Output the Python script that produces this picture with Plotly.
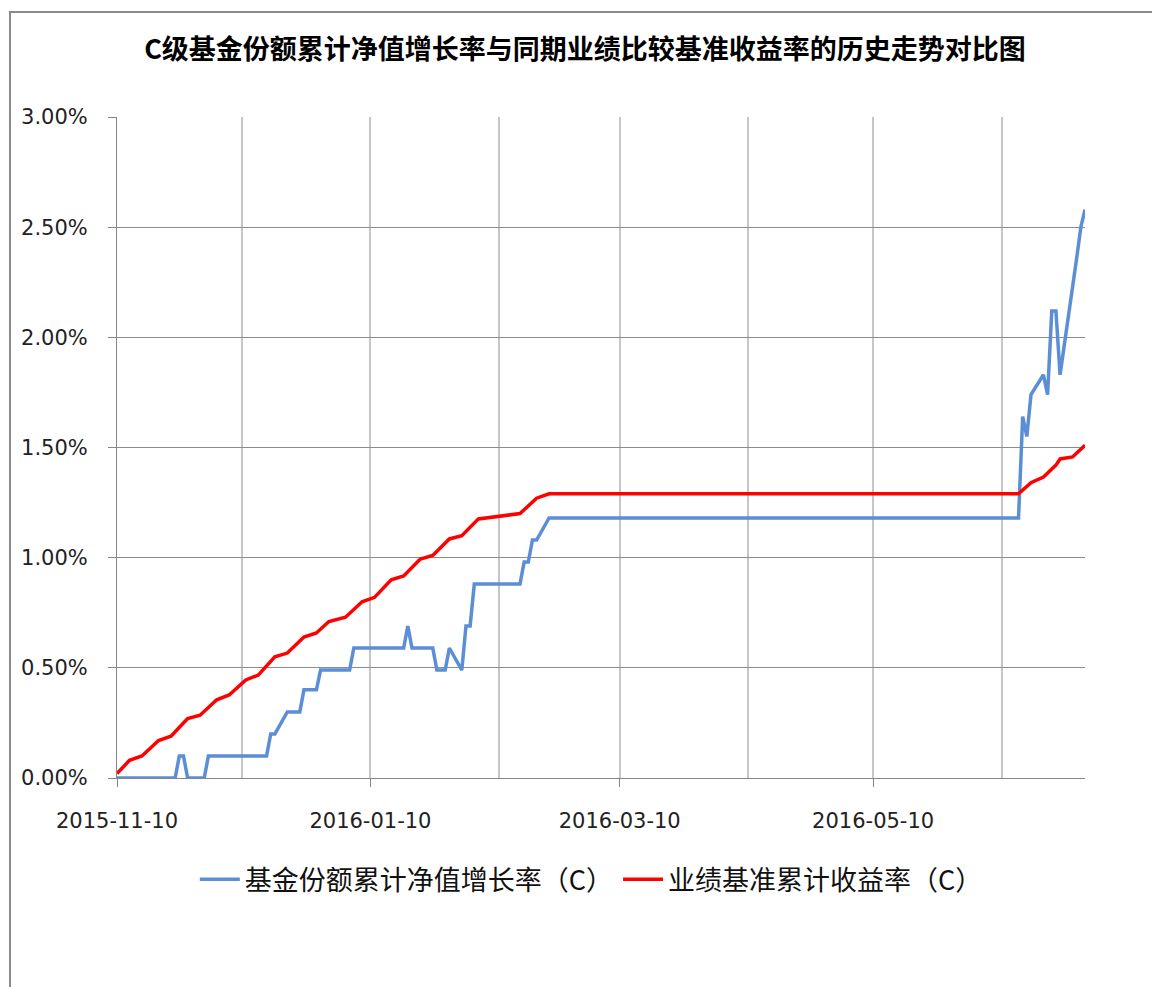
import plotly.graph_objects as go

# ---- data ----
fund_dates = [
    "2015-11-10", "2015-11-24", "2015-11-25", "2015-11-26", "2015-11-27",
    "2015-12-01", "2015-12-02", "2015-12-16", "2015-12-17", "2015-12-18",
    "2015-12-21", "2015-12-24", "2015-12-25", "2015-12-28", "2015-12-29",
    "2016-01-05", "2016-01-06", "2016-01-18", "2016-01-19", "2016-01-20",
    "2016-01-25", "2016-01-26", "2016-01-28", "2016-01-29", "2016-02-01",
    "2016-02-02", "2016-02-03", "2016-02-04", "2016-02-15", "2016-02-16",
    "2016-02-17", "2016-02-18", "2016-02-19", "2016-02-22", "2016-06-14",
    "2016-06-15", "2016-06-16", "2016-06-17", "2016-06-20", "2016-06-21",
    "2016-06-22", "2016-06-23", "2016-06-24", "2016-06-25", "2016-06-26",
    "2016-06-27", "2016-06-28", "2016-06-29", "2016-06-30",
]
fund_values = [
    0.00, 0.00, 0.10, 0.10, 0.00,
    0.00, 0.10, 0.10, 0.20, 0.20,
    0.30, 0.30, 0.40, 0.40, 0.49,
    0.49, 0.59, 0.59, 0.69, 0.59,
    0.59, 0.49, 0.49, 0.59, 0.49,
    0.69, 0.69, 0.88, 0.88, 0.98,
    0.98, 1.08, 1.08, 1.18, 1.18,
    1.64, 1.55, 1.74, 1.83, 1.74,
    2.12, 2.12, 1.83, 1.96, 2.08,
    2.22, 2.36, 2.50, 2.58,
]

bench_dates = [
    "2015-11-10", "2015-11-13", "2015-11-16", "2015-11-20", "2015-11-23",
    "2015-11-27", "2015-11-30", "2015-12-04", "2015-12-07", "2015-12-11",
    "2015-12-14", "2015-12-18", "2015-12-21", "2015-12-25", "2015-12-28",
    "2015-12-31", "2016-01-04", "2016-01-08", "2016-01-11", "2016-01-15",
    "2016-01-18", "2016-01-22", "2016-01-25", "2016-01-29", "2016-02-01",
    "2016-02-05", "2016-02-15", "2016-02-19", "2016-02-22", "2016-06-14",
    "2016-06-17", "2016-06-20", "2016-06-23", "2016-06-24", "2016-06-27",
    "2016-06-30",
]
bench_values = [
    0.02, 0.08, 0.10, 0.17, 0.19,
    0.27, 0.285, 0.355, 0.377, 0.445,
    0.467, 0.55, 0.567, 0.64, 0.658,
    0.71, 0.73, 0.80, 0.82, 0.90,
    0.917, 0.994, 1.01, 1.085, 1.10,
    1.176, 1.20, 1.27, 1.29, 1.29,
    1.34, 1.366, 1.42, 1.448, 1.457,
    1.51,
]

tick_dates = ["2015-11-10", "2016-01-10", "2016-03-10", "2016-05-10"]
tick_labels = ["2015-11-10", "2016-01-10", "2016-03-10", "2016-05-10"]
grid_dates = ["2015-11-10", "2015-12-10", "2016-01-10", "2016-02-10",
              "2016-03-10", "2016-04-10", "2016-05-10", "2016-06-10"]
x_range = ["2015-11-10", "2016-06-30"]

title_text = "C级基金份额累计净值增长率与同期业绩比较基准收益率的历史走势对比图"
name_fund = "基金份额累计净值增长率（C）"
name_bench = "业绩基准累计收益率（C）"

CJK = "Noto Sans CJK SC"
TICKFONT = "DejaVu Sans"

fig = go.Figure()
fig.add_trace(go.Scatter(x=fund_dates, y=fund_values, mode="lines", name=name_fund,
                         line=dict(color="#5B8ED6", width=3.5)))
fig.add_trace(go.Scatter(x=bench_dates, y=bench_values, mode="lines", name=name_bench,
                         line=dict(color="#FF0000", width=3.5)))

fig.update_layout(
    width=1152, height=987,
    margin=dict(l=117, r=67, t=117, b=209),
    paper_bgcolor="white", plot_bgcolor="white",
    title=dict(text=title_text, x=585 / 1152, xanchor="center", xref="container",
               y=1 - 50 / 987, yanchor="middle", yref="container",
               font=dict(family=CJK, size=27, color="#000000", weight="bold")),
    legend=dict(orientation="h", x=0.49, xanchor="center", y=-0.154, yanchor="middle",
                font=dict(family=CJK, size=27, color="#111111"),
                itemwidth=40, bgcolor="rgba(0,0,0,0)"),
    showlegend=True,
)

fig.update_xaxes(
    type="date", range=x_range,
    tickmode="array", tickvals=tick_dates, ticktext=tick_labels,
    showline=True, linecolor="#868686", linewidth=1,
    ticks="outside", ticklen=8, tickcolor="#868686", tickwidth=1,
    ticklabelstandoff=16,
    showgrid=True, gridcolor="#C6C6C6", gridwidth=1.5,
    minor=dict(tickmode="array", tickvals=grid_dates, showgrid=True,
               gridcolor="#C6C6C6", gridwidth=1.5, ticks=""),
    tickfont=dict(family=TICKFONT, size=21, color="#222222"),
    zeroline=False,
)
fig.update_yaxes(
    range=[0, 3], dtick=0.5, tick0=0, tickformat=".2f", ticksuffix="%",
    showline=True, linecolor="#868686", linewidth=1,
    ticks="outside", ticklen=8, tickcolor="#868686", tickwidth=1,
    ticklabelstandoff=16,
    showgrid=True, gridcolor="#8C8C8C", gridwidth=1,
    tickfont=dict(family=TICKFONT, size=21, color="#222222"),
    zeroline=False,
)

# outer chart border (visible at top and left in the reference)
fig.add_shape(type="path", xref="paper", yref="paper",
              path="M %f %f L %f %f L %f %f" % ((1160 - 117) / 968, (778 - 12) / 661,
                                               (10 - 117) / 968, (778 - 12) / 661,
                                               (10 - 117) / 968, (778 - 1000) / 661),
              line=dict(color="#8A8A8A", width=2), layer="above")

fig.write_html("out.html", config={"displayModeBar": False},
               post_script="document.body.style.margin='0';document.body.style.overflow='hidden';")
